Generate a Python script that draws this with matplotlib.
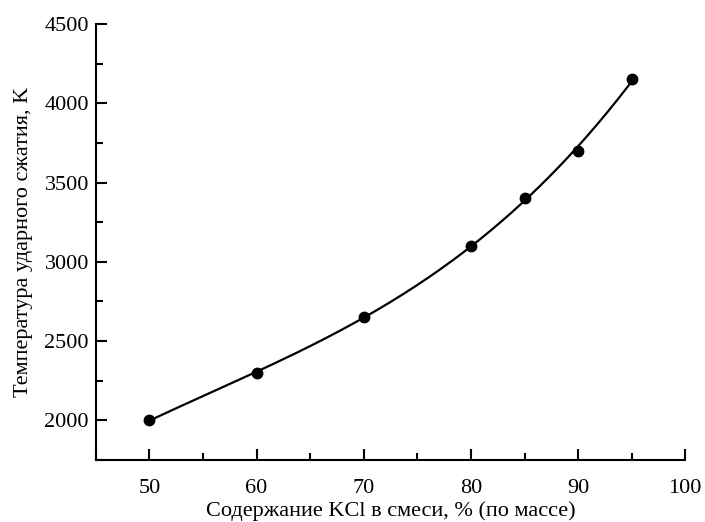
import numpy as np
import matplotlib
matplotlib.use("Agg")
import matplotlib.pyplot as plt
from matplotlib.ticker import MultipleLocator

# data
kcl = [50, 60, 70, 80, 85, 90, 95]
temp = [2000, 2300, 2650, 3100, 3400, 3700, 4150]

plt.rcParams['font.family'] = ['Liberation Serif', 'DejaVu Serif']
plt.rcParams['font.size'] = 16

fig = plt.figure(figsize=(7.05, 5.22), dpi=100)
ax = fig.add_axes([0.136, 0.119, 0.836, 0.835])

# smooth guide curve through the points
coef = np.polyfit(kcl, temp, 3)
xs = np.linspace(kcl[0], kcl[-1], 200)
ax.plot(xs, np.polyval(coef, xs), color='black', lw=1.6)
ax.plot(kcl, temp, 'o', color='black', ms=7.5)

ax.set_xlim(45, 100)
ax.set_ylim(1750, 4500)
ax.xaxis.set_major_locator(MultipleLocator(10))
ax.xaxis.set_minor_locator(MultipleLocator(5))
ax.yaxis.set_major_locator(MultipleLocator(500))
ax.yaxis.set_minor_locator(MultipleLocator(250))

for s in ['top', 'right']:
    ax.spines[s].set_visible(False)
for s in ['left', 'bottom']:
    ax.spines[s].set_linewidth(1.5)
ax.tick_params(which='major', direction='in', length=8, width=1.5)
ax.tick_params(which='minor', direction='in', length=5, width=1.5)
ax.tick_params(axis='x', which='major', pad=14)
ax.tick_params(axis='y', which='major', pad=5)

ax.set_xlabel('Содержание KCl в смеси, % (по массе)', labelpad=2)
ax.set_ylabel('Температура ударного сжатия, K', labelpad=8)

fig.savefig('out.png', dpi=100)
